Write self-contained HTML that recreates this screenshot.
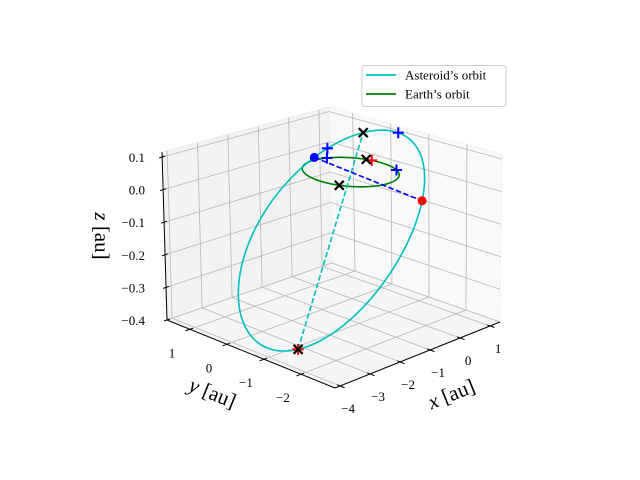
<!DOCTYPE html>
<html><head><meta charset="utf-8"><style>
html,body{margin:0;padding:0;background:#fff;}
svg{display:block;font-family:"Liberation Serif",serif;}
</style></head><body>
<svg id="chart" width="640" height="480" xmlns="http://www.w3.org/2000/svg">
<g id="panes"></g>
<g id="grid"></g>
<g id="axes"></g>
<g id="series"></g>
<g id="marks"></g>
<g>
<rect x="362" y="65.5" width="144" height="41" rx="2.5" fill="#fff" stroke="#ccc" stroke-width="1"/>
<line x1="366" y1="75" x2="396" y2="75" stroke="#00bfbf" stroke-width="1.8"/>
<text x="405" y="79.5" font-size="13">Asteroid’s orbit</text>
<line x1="366" y1="94" x2="396" y2="94" stroke="#008000" stroke-width="1.8"/>
<text x="405" y="98.5" font-size="13">Earth’s orbit</text>
</g>
<text x="451" y="401" font-size="21" text-anchor="middle" transform="rotate(-22 451 393)"><tspan font-style="italic">x</tspan> [au]</text>
<text x="213" y="400" font-size="21" text-anchor="middle" transform="rotate(22 213 392)"><tspan font-style="italic">y</tspan> [au]</text>
<text x="102" y="243" font-size="21" text-anchor="middle" transform="rotate(90 102 236)"><tspan font-style="italic">z</tspan> [au]</text>
</svg>
<script>
const xTicks = [-4, -3, -2, -1, 0, 1];
const yTicks = [-2, -1, 0, 1];
const zTicks = [-0.4, -0.3, -0.2, -0.1, 0.0, 0.1];
const xLimits = [-4.17, 1.33];
const yLimits = [-2.92, 1.62];
const zLimits = [-0.4, 0.115];
const earthRadius = [1.0];
const asteroidEccentricity = [0.615];
const asteroidPerihelionDist = [0.93];
const asteroidPerihelionDir = [3.62, 1.47, 0.372];
const asteroidNodeDir = [0.17, 0.98, 0];
const asteroidMarkerAnomalies = [44, -50];
const earthCrossAngles = [205, 20];
const earthRedAngles = [13];
const earthPlusAngles = [-32, 68];

const NS = "http://www.w3.org/2000/svg";
function mk(parent, tag, attrs) {
  const el = document.createElementNS(NS, tag);
  for (const k in attrs) el.setAttribute(k, attrs[k]);
  parent.appendChild(el);
  return el;
}
function proj(x, y, z) {
  const u = (x - xLimits[0]) / (xLimits[1] - xLimits[0]);
  const v = (y - yLimits[0]) / (yLimits[1] - yLimits[0]);
  const zr = zLimits[1] - zLimits[0];
  const zs = 349 - 23 * (u + v);
  const dz = z - zLimits[0];
  const px = 335 + 165 * u - 168 * v + (dz / zr) * (2 * u - 5 * v);
  const py = 388 - 66 * u - 68 * v + 9 * u * v - dz * zs;
  return [px, py];
}
function pathFrom(pts, close) {
  return pts.map((p, i) => (i ? "L" : "M") + p[0].toFixed(2) + " " + p[1].toFixed(2)).join(" ") + (close ? " Z" : "");
}
const [x0, x1] = xLimits, [y0, y1] = yLimits, [z0, z1] = zLimits;
const panes = document.getElementById("panes");
const grid = document.getElementById("grid");
const axes = document.getElementById("axes");
const series = document.getElementById("series");
const marks = document.getElementById("marks");

let el;
el = mk(panes, "path", { d: pathFrom([proj(x0,y0,z0), proj(x1,y0,z0), proj(x1,y1,z0), proj(x0,y1,z0)], true), fill: "#f5f5f5", stroke: "#f0f0f0" });


el = mk(panes, "path", { d: pathFrom([proj(x0,y1,z0), proj(x1,y1,z0), proj(x1,y1,z1), proj(x0,y1,z1)], true), fill: "#f2f2f2", stroke: "#ececec" });


el = mk(panes, "path", { d: pathFrom([proj(x1,y0,z0), proj(x1,y1,z0), proj(x1,y1,z1), proj(x1,y0,z1)], true), fill: "#f9f9f9", stroke: "#f2f2f2" });



const gs = { stroke: "#b8b8b8", "stroke-width": 0.8, fill: "none" };
function gline(a, b) {
  const l = mk(grid, "path", Object.assign({ d: pathFrom([a, b]) }, gs));
  
  
}
xTicks.forEach(x => { gline(proj(x,y0,z0), proj(x,y1,z0)); gline(proj(x,y1,z0), proj(x,y1,z1)); });
yTicks.forEach(y => { gline(proj(x0,y,z0), proj(x1,y,z0)); gline(proj(x1,y,z0), proj(x1,y,z1)); });
zTicks.forEach(z => { gline(proj(x0,y1,z), proj(x1,y1,z)); gline(proj(x1,y1,z), proj(x1,y0,z)); });

const as = { stroke: "#000", "stroke-width": 1, fill: "none" };
el = mk(axes, "path", Object.assign({ d: pathFrom([proj(x0,y0,z0), proj(x1,y0,z0)]) }, as));


el = mk(axes, "path", Object.assign({ d: pathFrom([proj(x0,y1,z0), proj(x0,y0,z0)]) }, as));


el = mk(axes, "path", Object.assign({ d: pathFrom([proj(x0,y1,z0), proj(x0,y1,z1)]) }, as));



function fmt(v, d) { const s = Math.abs(v).toFixed(d); return (v < -1e-9 ? "\u2212" : "") + s; }
xTicks.forEach(x => {
  const t = mk(axes, "path", Object.assign({ d: pathFrom([proj(x,y0+0.08,z0), proj(x,y0-0.12,z0)]) }, as));
  
  
  const p = proj(x,y0,z0);
  const tx = mk(axes, "text", { x: p[0] + 8, y: p[1] + 27, "font-size": 13, "text-anchor": "middle" });
  tx.textContent = fmt(x, 0);
  
  
});
yTicks.forEach(y => {
  const t = mk(axes, "path", Object.assign({ d: pathFrom([proj(x0+0.1,y,z0), proj(x0-0.15,y,z0)]) }, as));
  
  
  const p = proj(x0,y,z0);
  const tx = mk(axes, "text", { x: p[0] - 18, y: p[1] + 28, "font-size": 13, "text-anchor": "middle" });
  tx.textContent = fmt(y, 0);
  
  
});
zTicks.forEach(z => {
  const p = proj(x0,y1,z);
  const t = mk(axes, "path", Object.assign({ d: pathFrom([[p[0]-3,p[1]+1],[p[0]+3,p[1]-1]]) }, as));
  
  
  const tx = mk(axes, "text", { x: 145, y: p[1] + 5, "font-size": 13, "text-anchor": "end" });
  tx.textContent = fmt(z, 1);
  
  
});

function earthPos(deg) { const a = deg * Math.PI / 180; return [earthRadius[0]*Math.cos(a), earthRadius[0]*Math.sin(a), 0]; }
const ePts = [];
for (let i = 0; i <= 200; i++) { const p = earthPos(i * 1.8); ePts.push(proj(p[0], p[1], p[2])); }
el = mk(series, "path", { d: pathFrom(ePts, true), stroke: "#008000", "stroke-width": 1.6, fill: "none" });



const norm = v => { const l = Math.hypot(v[0], v[1], v[2]); return v.map(c => c / l); };
const P = norm(asteroidPerihelionDir);
const nd = asteroidNodeDir, dp = nd[0]*P[0] + nd[1]*P[1] + nd[2]*P[2];
const Q = norm([nd[0]-dp*P[0], nd[1]-dp*P[1], nd[2]-dp*P[2]]);
const ecc = asteroidEccentricity[0], pl = asteroidPerihelionDist[0] * (1 + ecc);
function astPos(th) {
  const r = pl / (1 + ecc * Math.cos(th));
  return [0,1,2].map(k => r * (Math.cos(th) * P[k] + Math.sin(th) * Q[k]));
}
const aPts = [];
for (let i = 0; i <= 360; i++) { const p = astPos(i * Math.PI / 180); aPts.push(proj(p[0], p[1], p[2])); }
el = mk(series, "path", { d: pathFrom(aPts, true), stroke: "#00bfbf", "stroke-width": 1.6, fill: "none" });



const peri = astPos(0), aph = astPos(Math.PI);
el = mk(series, "path", { d: pathFrom([proj(...aph), proj(...peri)]), stroke: "#00bfbf", "stroke-width": 1.6, fill: "none", "stroke-dasharray": "5.5 2.5" });



const thNode = Math.atan2(-P[2], Q[2]);
const n1 = astPos(thNode), n2 = astPos(thNode + Math.PI);
const blueN = n1[1] > n2[1] ? n1 : n2, redN = n1[1] > n2[1] ? n2 : n1;
el = mk(series, "path", { d: pathFrom([proj(...blueN), proj(...redN)]), stroke: "#0000ff", "stroke-width": 1.6, fill: "none", "stroke-dasharray": "5.5 2.5" });



function cross(p, color, name) {
  const s = 4.5;
  const m = mk(marks, "path", { d: `M${p[0]-s} ${p[1]-s} L${p[0]+s} ${p[1]+s} M${p[0]-s} ${p[1]+s} L${p[0]+s} ${p[1]-s}`, stroke: color, "stroke-width": 2.2, fill: "none" });
  
  
}
function plus(p, color, name) {
  const s = 5.5;
  const m = mk(marks, "path", { d: `M${p[0]-s} ${p[1]} L${p[0]+s} ${p[1]} M${p[0]} ${p[1]-s} L${p[0]} ${p[1]+s}`, stroke: color, "stroke-width": 2, fill: "none" });
  
  
}
function dot(p, color, name) {
  const m = mk(marks, "circle", { cx: p[0], cy: p[1], r: 4.5, fill: color });
  
  
}
plus(proj(...aph), "#ff0000", "aphelion-red-marker");
cross(proj(...aph), "#000", "aphelion-marker");
cross(proj(...peri), "#000", "perihelion-marker");
asteroidMarkerAnomalies.forEach(a => plus(proj(...astPos(a * Math.PI / 180)), "#0000ff", "asteroid-position-marker"));
earthRedAngles.forEach(a => plus(proj(...earthPos(a)), "#ff0000", "earth-red-marker"));
earthCrossAngles.forEach(a => cross(proj(...earthPos(a)), "#000", "earth-cross-marker"));
earthPlusAngles.forEach(a => plus(proj(...earthPos(a)), "#0000ff", "earth-position-marker"));
dot(proj(...blueN), "#0000ff", "ascending-node");
dot(proj(...redN), "#ff0000", "descending-node");
</script>
</body></html>
